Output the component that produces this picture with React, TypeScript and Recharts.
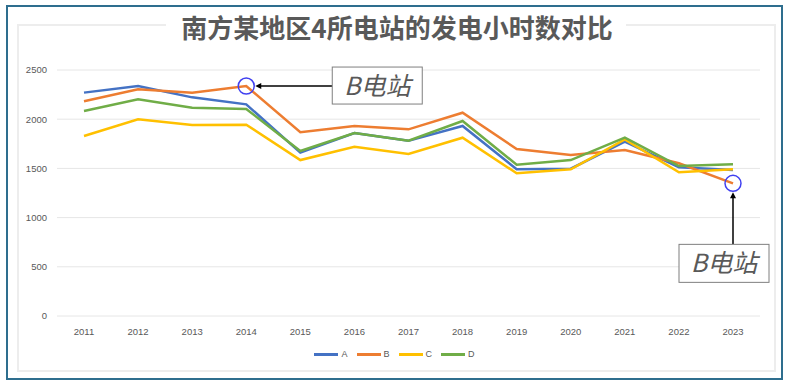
import React from "react"
import { CartesianGrid, Line, LineChart, ReferenceDot, XAxis, YAxis } from "recharts"

const years = ["2011", "2012", "2013", "2014", "2015", "2016", "2017", "2018", "2019", "2020", "2021", "2022", "2023"]
const seriesA = [2270, 2337, 2222, 2151, 1660, 1860, 1780, 1931, 1491, 1497, 1771, 1511, 1484]
const seriesB = [2182, 2304, 2270, 2337, 1867, 1931, 1897, 2066, 1697, 1636, 1687, 1552, 1348]
const seriesC = [1829, 1999, 1941, 1944, 1585, 1720, 1646, 1812, 1450, 1491, 1795, 1460, 1491]
const seriesD = [2083, 2202, 2117, 2104, 1677, 1860, 1782, 1982, 1538, 1585, 1812, 1524, 1541]
const yTicks = [0, 500, 1000, 1500, 2000, 2500]

const series = [
  { key: "A", color: "#4472C4" },
  { key: "B", color: "#ED7D31" },
  { key: "C", color: "#FFC000" },
  { key: "D", color: "#70AD47" },
]

const data = years.map((year, i) => ({
  year,
  A: seriesA[i],
  B: seriesB[i],
  C: seriesC[i],
  D: seriesD[i],
}))

const labelText = "B电站"
const textStyle = { fontFamily: "'Noto Sans CJK SC', 'Noto Sans', sans-serif", fontStyle: "italic" as const }

// callout: circle on the point, arrow pointing at it from a boxed label
function CalloutRight(props: any) {
  const { cx, cy } = props
  const bx = cx + 86
  return (
    <g>
      <circle cx={cx} cy={cy} r={8} fill="none" stroke="#4040F0" strokeWidth={1.5} />
      <line x1={bx} y1={cy} x2={cx + 13} y2={cy} stroke="#000" strokeWidth={1.5} />
      <path d={`M${cx + 9},${cy} L${cx + 15},${cy - 3} L${cx + 15},${cy + 3} Z`} fill="#000" />
      <rect x={bx} y={cy - 19} width={90} height={37} fill="#fff" stroke="#7F7F7F" strokeWidth={1} />
      <text x={bx + 45} y={cy + 9} textAnchor="middle" fontSize={25} fill="#595959" style={textStyle}>
        {labelText}
      </text>
    </g>
  )
}

function CalloutBelow(props: any) {
  const { cx, cy } = props
  const by = cy + 61
  return (
    <g>
      <circle cx={cx} cy={cy} r={8} fill="none" stroke="#4040F0" strokeWidth={1.5} />
      <line x1={cx} y1={by} x2={cx} y2={cy + 13} stroke="#000" strokeWidth={1.5} />
      <path d={`M${cx},${cy + 9} L${cx - 3},${cy + 15} L${cx + 3},${cy + 15} Z`} fill="#000" />
      <rect x={cx - 54} y={by} width={90} height={38} fill="#fff" stroke="#7F7F7F" strokeWidth={1} />
      <text x={cx - 9} y={by + 28} textAnchor="middle" fontSize={25} fill="#595959" style={textStyle}>
        {labelText}
      </text>
    </g>
  )
}

function LegendRow() {
  return (
    <div
      style={{
        position: "absolute",
        left: 0,
        top: 349,
        width: 789,
        display: "flex",
        justifyContent: "center",
        gap: 9,
        fontFamily: "'Liberation Sans', sans-serif",
        fontSize: 9,
        color: "#595959",
      }}
    >
      {series.map((s) => (
        <div key={s.key} style={{ display: "flex", alignItems: "center", gap: 3 }}>
          <span style={{ display: "inline-block", width: 24, height: 3, background: s.color }} />
          <span>{s.key}</span>
        </div>
      ))}
    </div>
  )
}

export default function App() {
  return (
    <div style={{ position: "absolute", left: 0, top: 0, width: 789, height: 386, background: "#fff" }}>
      <svg width={789} height={386} style={{ position: "absolute", left: 0, top: 0 }}>
        <rect x={7} y={6} width={775} height={373} fill="#fff" stroke="#2E6E8E" strokeWidth={2} />
        <rect x={18} y={25} width={757} height={346} fill="none" stroke="#EDEDED" strokeWidth={2} />
        <rect x={166} y={14} width={460} height={24} fill="#fff" />
        <text
          x={397}
          y={38}
          textAnchor="middle"
          fontSize={26}
          fontWeight="bold"
          fill="#595959"
          style={{ fontFamily: "'Noto Sans CJK SC', sans-serif" }}
        >
          南方某地区4所电站的发电小时数对比
        </text>
      </svg>
      <div style={{ position: "absolute", left: 0, top: 0 }}>
        <LineChart width={789} height={386} data={data} margin={{ top: 70, right: 29, bottom: 40, left: 0 }}>
          <CartesianGrid vertical={false} stroke="#E6E6E6" strokeWidth={1} />
          <XAxis
            dataKey="year"
            height={30}
            padding={{ left: 27, right: 27 }}
            axisLine={false}
            tickLine={false}
            tickMargin={6}
            tick={{ fill: "#595959", fontSize: 9.5, fontFamily: "'Liberation Sans', sans-serif" }}
          />
          <YAxis
            width={57}
            domain={[0, 2500]}
            ticks={yTicks}
            axisLine={false}
            tickLine={false}
            tickMargin={4}
            tick={{ fill: "#595959", fontSize: 9.5, fontFamily: "'Liberation Sans', sans-serif" }}
          />
          {series.map((s) => (
            <Line
              key={s.key}
              type="linear"
              dataKey={s.key}
              stroke={s.color}
              strokeWidth={2.5}
              dot={false}
              activeDot={false}
              isAnimationActive={false}
            />
          ))}
          <ReferenceDot x={years[3]} y={seriesB[3]} shape={<CalloutRight />} />
          <ReferenceDot x={years[12]} y={seriesB[12]} shape={<CalloutBelow />} />
        </LineChart>
      </div>
      <LegendRow />
    </div>
  )
}
